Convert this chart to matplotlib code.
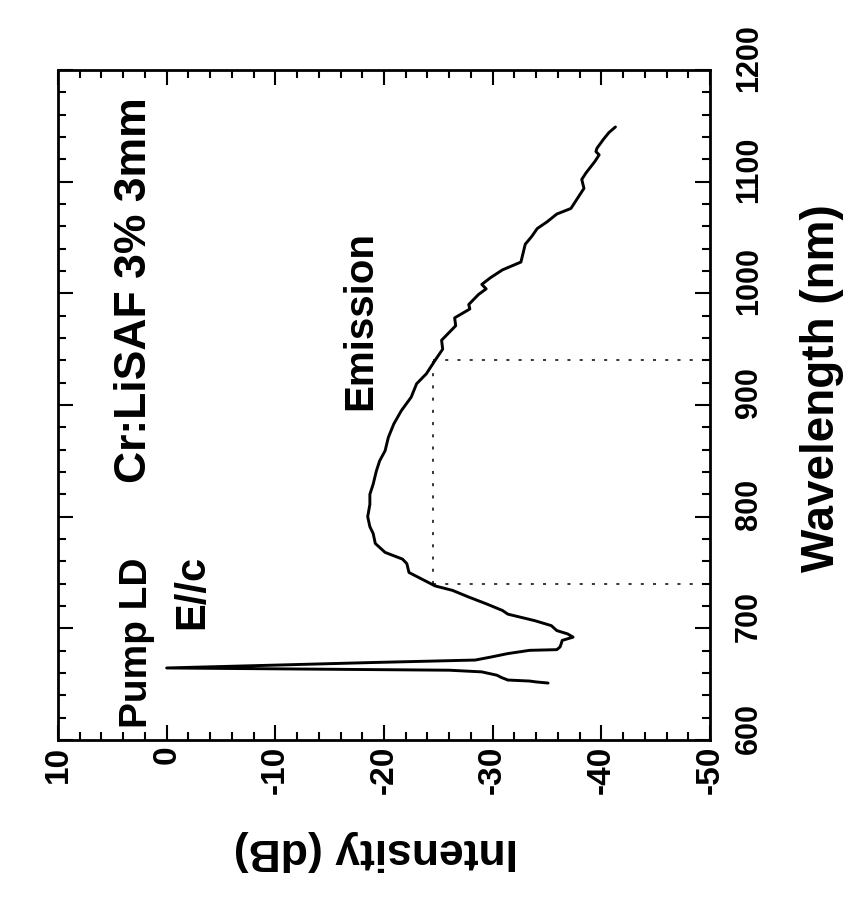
import matplotlib
matplotlib.use("Agg")
import matplotlib.pyplot as plt
from matplotlib.ticker import MultipleLocator, FuncFormatter, NullFormatter
from matplotlib.transforms import blended_transform_factory, ScaledTranslation

plt.rcParams['font.family'] = ['Liberation Sans', 'DejaVu Sans']
plt.rcParams['font.weight'] = 'bold'

# Cr:LiSAF emission spectrum (pump LD line + broadband emission)
wavelength_nm = [651, 652, 652.8, 653.7, 656, 658, 661, 662.5, 663.5, 664.5, 666.8, 669.4, 671.6,
                 674.4, 677.4, 680.3, 680.9, 683.3, 686, 689.2, 692.1, 695, 698, 702.4, 706.8,
                 712.7, 716, 722, 728, 734, 738, 744, 750, 754, 758, 762, 768, 776,
                 785, 791, 800, 811, 820, 829, 841, 850, 859, 871, 883, 895, 907,
                 919, 928, 940, 950, 958, 966, 971, 978, 986, 990, 999, 1004, 1008,
                 1014, 1021, 1028, 1036, 1044, 1051, 1058, 1064, 1071, 1076, 1085,
                 1094, 1102, 1108, 1113, 1118, 1124, 1127, 1130, 1138, 1144, 1149]
intensity_db = [-35.1, -34.0, -33.4, -31.4, -30.8, -30.4, -29.0, -26.0, -13.0, 0.0, -9.0, -19.0, -28.4,
                -29.9, -31.4, -33.4, -35.9, -36.2, -36.3, -36.4, -37.4, -36.9, -35.9, -35.4, -33.9,
                -31.4, -30.9, -29.4, -27.8, -26.3, -24.7, -23.5, -22.3, -22.2, -22.1, -21.7, -20.1, -19.2,
                -19.0, -18.7, -18.5, -18.7, -18.7, -19.0, -19.3, -19.6, -20.1, -20.4, -20.9, -21.6, -22.5,
                -23.0, -23.9, -24.7, -25.4, -25.3, -26.1, -26.6, -26.5, -27.9, -27.8, -28.7, -29.4, -29.0,
                -29.8, -30.9, -32.6, -32.8, -33.0, -33.6, -34.1, -35.0, -35.9, -37.2, -37.8,
                -38.4, -38.2, -38.6, -39.0, -39.4, -39.8, -39.5, -39.6, -40.2, -40.7, -41.3]

# bandwidth markers
band_edges_nm = [740, 940]
band_level_db = -24.5

intensity_limits = (10, -50)
wavelength_limits = (600, 1200)
wavelength_ticks = [600, 700, 800, 900, 1000, 1100, 1200]

W, H = 846, 897
fig = plt.figure(figsize=(W / 100, H / 100), dpi=100)
ax = fig.add_axes([58 / W, 1 - 740 / H, 652 / W, 670 / H])

ax.plot(intensity_db, wavelength_nm, color='black', lw=2.1,
        solid_joinstyle='round', solid_capstyle='round')

dots = (0, (2, 6))
for wl in band_edges_nm:
    ax.plot([band_level_db, intensity_limits[1]], [wl, wl], color='black', lw=1.1, linestyle=dots)
ax.plot([band_level_db, band_level_db], band_edges_nm, color='black', lw=1.1, linestyle=dots)

ax.set_xlim(*intensity_limits)
ax.set_ylim(*wavelength_limits)

ax.xaxis.set_major_locator(MultipleLocator(10))
ax.xaxis.set_minor_locator(MultipleLocator(2))
ax.yaxis.set_major_locator(MultipleLocator(100))
ax.yaxis.set_minor_locator(MultipleLocator(20))
ax.xaxis.set_major_formatter(FuncFormatter(lambda v, p: f"{int(round(v))}"))
ax.yaxis.set_major_formatter(NullFormatter())

ax.tick_params(which='both', direction='in', top=True, bottom=True, left=True, right=True,
               labelleft=False, labelright=False, width=1.5, color='black')
ax.tick_params(which='major', length=11)
ax.tick_params(which='minor', length=5.5)
ax.tick_params(axis='x', which='major', labelsize=24, pad=4, labelrotation=90)
for s in ax.spines.values():
    s.set_linewidth(2.0)

# wavelength labels along the right spine
right_trans = blended_transform_factory(ax.transAxes, ax.transData) + \
    ScaledTranslation(0.24, 0.12, fig.dpi_scale_trans)
for wl in wavelength_ticks:
    ax.text(1, wl, f"{wl}", transform=right_trans, rotation=90, ha='left', va='center',
            fontsize=22, clip_on=False)

def fx(px):
    return px / W

def fy(py):
    return 1 - py / H

fig.text(fx(134), fy(290), "Cr:LiSAF 3% 3mm", rotation=90, fontsize=32,
         ha='center', va='center')
fig.text(fx(137), fy(643), "Pump LD", rotation=90, fontsize=28, ha='center', va='center')
fig.text(fx(192), fy(592), "E//c", rotation=90, fontsize=30, ha='center', va='center')
fig.text(fx(360), fy(321), "Emission", rotation=90, fontsize=29, ha='center', va='center')
fig.text(fx(822), fy(388), "Wavelength (nm)", rotation=90, fontsize=33, ha='center', va='center')
fig.text(fx(376), fy(850), "Intensity (dB)", rotation=180, fontsize=32, ha='center', va='center')

fig.savefig("out.png", dpi=100)
